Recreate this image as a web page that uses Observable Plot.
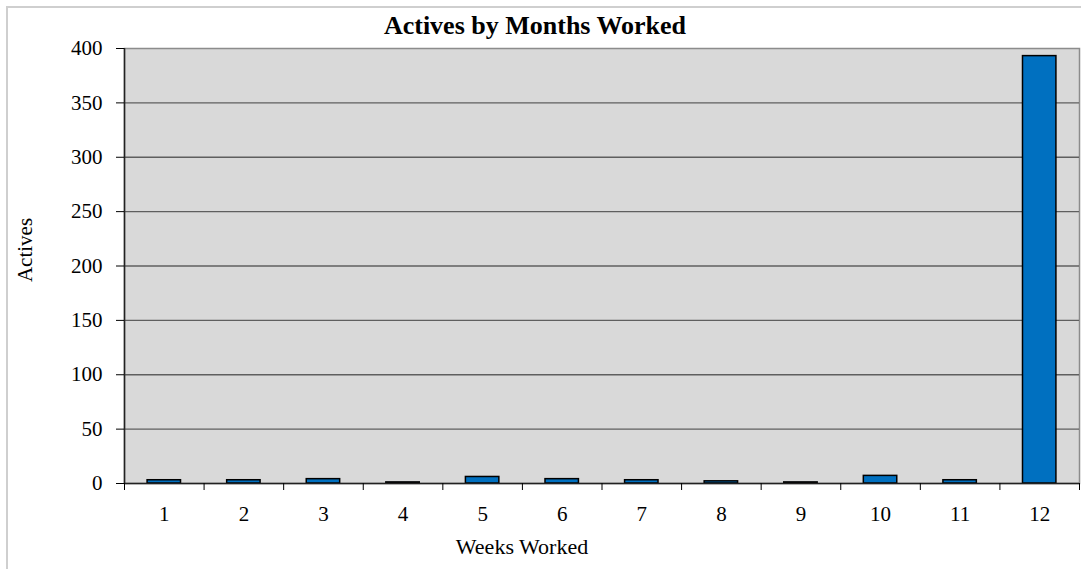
<!DOCTYPE html>
<html><head><meta charset="utf-8">
<script src="https://cdn.jsdelivr.net/npm/d3@7"></script>
<script src="https://cdn.jsdelivr.net/npm/@observablehq/plot@0.6"></script>
<style>
body{margin:0;background:#fff;width:1081px;height:569px;overflow:hidden;position:relative;font-family:"Liberation Serif","Times New Roman",serif;}
#frame{position:absolute;left:6px;top:6px;width:1100px;height:600px;border-left:2px solid #cfcfcf;border-top:2px solid #cfcfcf;}
#chart{position:absolute;left:0;top:0;}
.t{position:absolute;white-space:nowrap;color:#000;line-height:1;}
#title{left:535px;top:13px;font-size:26px;font-weight:bold;transform:translateX(-50%);}
#xlabel{left:522px;top:536px;font-size:22px;transform:translateX(-50%);}
#ylabel{left:25px;top:250px;font-size:21px;transform:translate(-50%,-50%) rotate(-90deg);}
</style></head><body>
<div id="frame"></div>
<div id="chart"></div>
<div class="t" id="title">Actives by Months Worked</div>
<div class="t" id="xlabel">Weeks Worked</div>
<div class="t" id="ylabel">Actives</div>
<script>
const months = [1,2,3,4,5,6,7,8,9,10,11,12];
const actives = [3,3,4,1,6,4,3,2,1,7,3,393];
const yTicks = [0,50,100,150,200,250,300,350,400];
const gridValues = [50,100,150,200,250,300,350];
const boundaries = [0.5,1.5,2.5,3.5,4.5,5.5,6.5,7.5,8.5,9.5,10.5,11.5,12.5];
const data = months.map((m,i)=>({m, v: actives[i]}));
const halfBar = 0.21;

const chart = Plot.plot({
  width:1081, height:569,
  marginLeft:124, marginRight:2, marginTop:48, marginBottom:86,
  style:{fontFamily:"Liberation Serif, Times New Roman, serif", fontSize:"21px", color:"#000", background:"transparent", overflow:"visible"},
  x:{type:"linear", domain:[0.5,12.5]},
  y:{domain:[0,400]},
  marks:[
    Plot.frame({fill:"#d9d9d9", stroke:"#8c8c8c", strokeWidth:1.5}),
    Plot.ruleY(gridValues, {stroke:"#5f5f5f", strokeWidth:1.3}),
    Plot.rectY(data, {x1: d=>d.m-halfBar, x2: d=>d.m+halfBar, y: "v", fill:"#0070c0", stroke:"#000", strokeWidth:1.5}),
    Plot.ruleY([0], {stroke:"#222", strokeWidth:1.5}),
    Plot.ruleX([0.5], {stroke:"#222", strokeWidth:1.5}),
    Plot.axisY({ticks: yTicks, tickSize:8, tickPadding:14, label:null}),
    Plot.axisX({ticks: boundaries, tickSize:7, tickFormat:()=>"", label:null}),
    Plot.axisX({ticks: months, tickSize:0, tickPadding:23, label:null})
  ]
});
document.getElementById("chart").appendChild(chart);
</script>
</body></html>
